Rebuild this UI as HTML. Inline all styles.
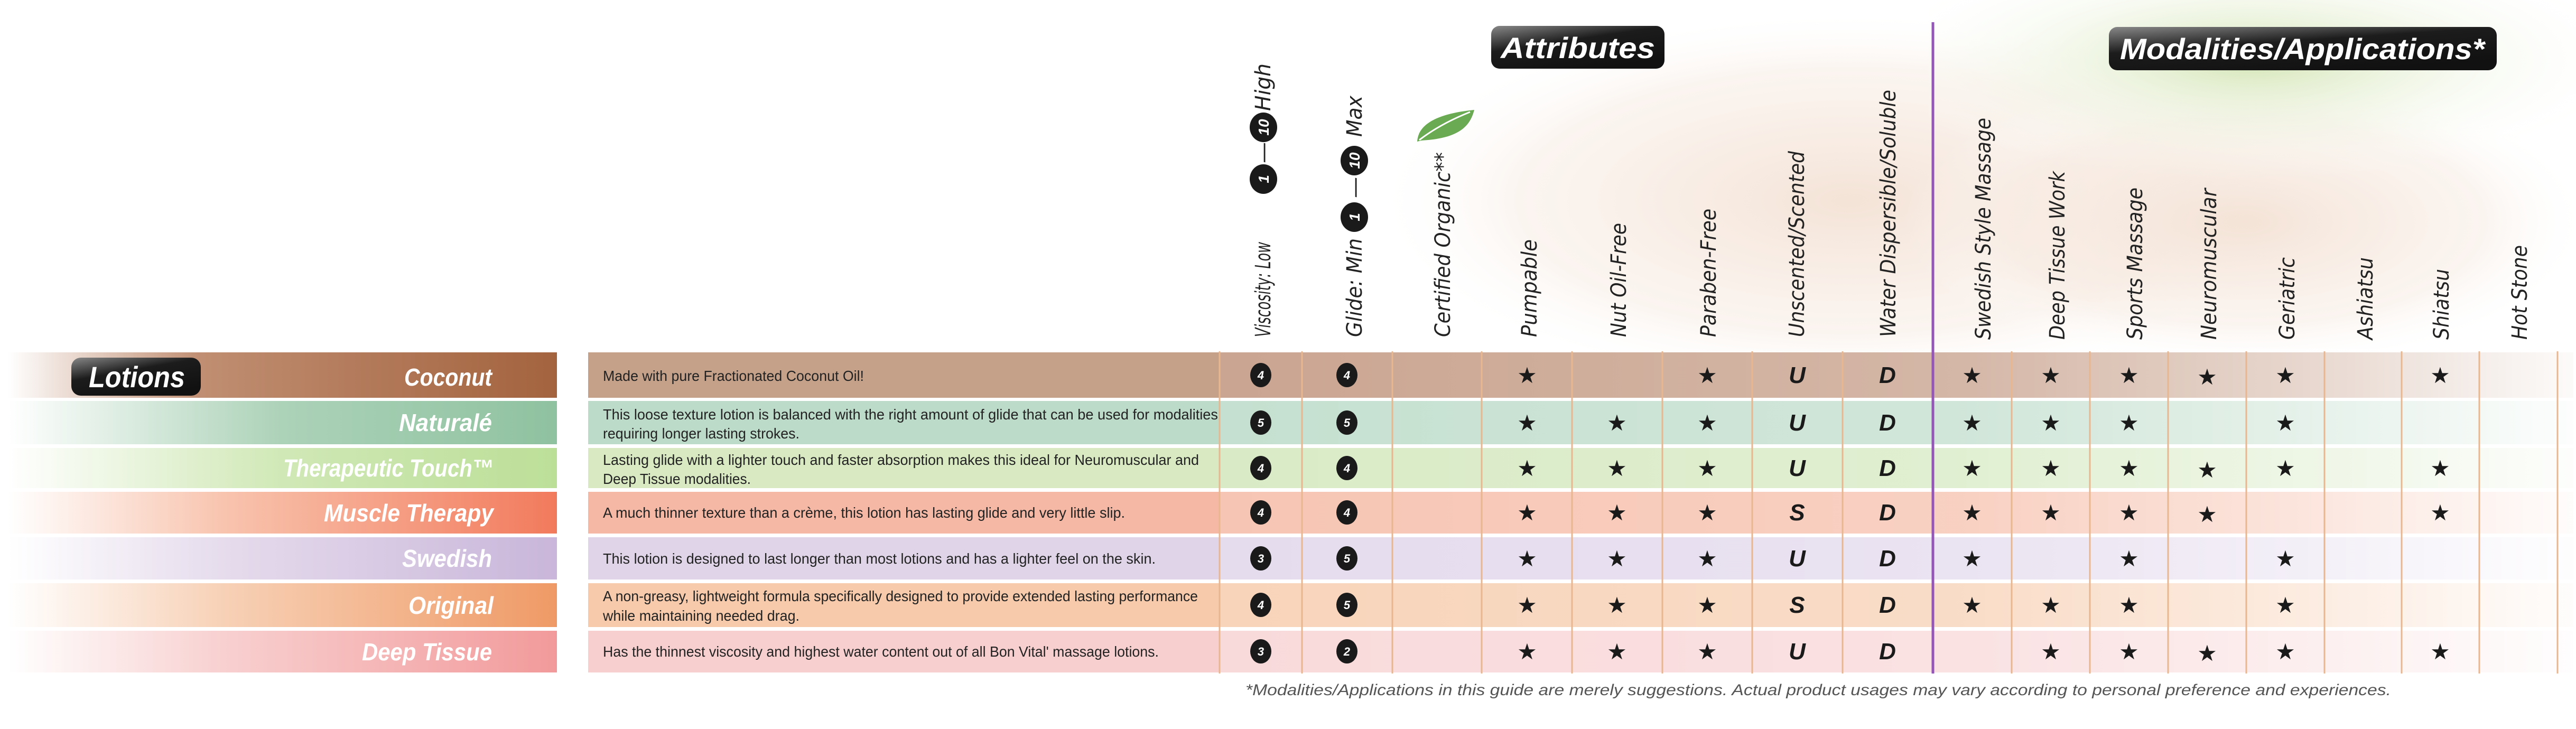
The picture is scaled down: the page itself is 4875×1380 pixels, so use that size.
<!DOCTYPE html>
<html><head><meta charset="utf-8"><style>
html,body{margin:0;padding:0;background:#fff;width:4875px;height:1380px;overflow:hidden}
svg{display:block}
.hd{font-family:"DejaVu Sans",sans-serif;font-style:italic;font-size:40px;fill:#222}
.nm{font-family:"Liberation Sans",sans-serif;font-style:italic;font-weight:bold;font-size:46px;fill:#fff}
.ds{font-family:"Liberation Sans",sans-serif;font-size:28px;fill:#222}
.st{font-family:"DejaVu Sans",sans-serif;font-size:42px;fill:#1a1a1a}
.lt{font-family:"Liberation Sans",sans-serif;font-style:italic;font-weight:bold;font-size:44px;fill:#1a1a1a}
.cn{font-family:"Liberation Sans",sans-serif;font-weight:bold;font-style:italic;font-size:22px;fill:#fff}
.cn2{font-family:"Liberation Sans",sans-serif;font-weight:bold;font-style:italic;font-size:28px;fill:#fff}
.bd{font-family:"Liberation Sans",sans-serif;font-weight:bold;font-size:56px;fill:#fff}
</style></head><body>
<svg width="4875" height="1380" viewBox="0 0 4875 1380" xmlns="http://www.w3.org/2000/svg">
<defs>
<radialGradient id="skin" cx="0.5" cy="0.5" r="0.5"><stop offset="0" stop-color="#f3e0d2" stop-opacity="0.9"/><stop offset="0.7" stop-color="#f7ebe2" stop-opacity="0.5"/><stop offset="1" stop-color="#fff" stop-opacity="0"/></radialGradient>
<radialGradient id="grn" cx="0.5" cy="0.3" r="0.6"><stop offset="0" stop-color="#cfe2ad" stop-opacity="0.9"/><stop offset="1" stop-color="#fff" stop-opacity="0"/></radialGradient>
<linearGradient id="gloss" x1="0" y1="0" x2="0.6" y2="1"><stop offset="0" stop-color="#888"/><stop offset="0.45" stop-color="#1c1c1c"/><stop offset="1" stop-color="#111"/></linearGradient>
<linearGradient id="gridFade" x1="2308" y1="0" x2="4870" y2="0" gradientUnits="userSpaceOnUse"><stop offset="0" stop-color="#fff" stop-opacity="0"/><stop offset="0.55" stop-color="#fff" stop-opacity="0.2"/><stop offset="0.8" stop-color="#fff" stop-opacity="0.55"/><stop offset="1" stop-color="#fff" stop-opacity="0.95"/></linearGradient>
<linearGradient id="b0" x1="0" x2="1"><stop offset="0" stop-color="#fff"/><stop offset="0.35" stop-color="#c08e72"/><stop offset="1" stop-color="#a3633e"/></linearGradient>
<linearGradient id="b1" x1="0" x2="1"><stop offset="0" stop-color="#fff"/><stop offset="0.5" stop-color="#acd2b8"/><stop offset="1" stop-color="#8fc2a0"/></linearGradient>
<linearGradient id="b2" x1="0" x2="1"><stop offset="0" stop-color="#fff"/><stop offset="0.5" stop-color="#d0e8b6"/><stop offset="1" stop-color="#bcdf98"/></linearGradient>
<linearGradient id="b3" x1="0" x2="1"><stop offset="0" stop-color="#fff"/><stop offset="0.4" stop-color="#f8c3ad"/><stop offset="1" stop-color="#f27a5c"/></linearGradient>
<linearGradient id="b4" x1="0" x2="1"><stop offset="0" stop-color="#fff"/><stop offset="0.4" stop-color="#e5dbec"/><stop offset="1" stop-color="#c9b6da"/></linearGradient>
<linearGradient id="b5" x1="0" x2="1"><stop offset="0" stop-color="#fff"/><stop offset="0.4" stop-color="#f7d0b5"/><stop offset="1" stop-color="#ef9a66"/></linearGradient>
<linearGradient id="b6" x1="0" x2="1"><stop offset="0" stop-color="#fff"/><stop offset="0.4" stop-color="#f8cfcf"/><stop offset="1" stop-color="#f29a9b"/></linearGradient>
</defs>

<ellipse cx="3500" cy="380" rx="900" ry="360" fill="url(#skin)"/>
<ellipse cx="4250" cy="420" rx="650" ry="280" fill="url(#skin)"/>
<rect x="3650" y="0" width="1225" height="380" fill="url(#grn)"/>

<rect x="15" y="667" width="1039" height="86" fill="url(#b0)"/>
<rect x="15" y="759" width="1039" height="82" fill="url(#b1)"/>
<rect x="15" y="848" width="1039" height="76" fill="url(#b2)"/>
<rect x="15" y="931" width="1039" height="79" fill="url(#b3)"/>
<rect x="15" y="1017" width="1039" height="80" fill="url(#b4)"/>
<rect x="15" y="1104" width="1039" height="83" fill="url(#b5)"/>
<rect x="15" y="1194" width="1039" height="79" fill="url(#b6)"/>

<rect x="1113" y="667" width="1195" height="86" fill="#c5a18a"/>
<rect x="1113" y="759" width="1195" height="82" fill="#bddbc9"/>
<rect x="1113" y="848" width="1195" height="76" fill="#d9eac3"/>
<rect x="1113" y="931" width="1195" height="79" fill="#f5b8a5"/>
<rect x="1113" y="1017" width="1195" height="80" fill="#e0d4e8"/>
<rect x="1113" y="1104" width="1195" height="83" fill="#f6caab"/>
<rect x="1113" y="1194" width="1195" height="79" fill="#f8cfcf"/>

<rect x="2308" y="667" width="2562" height="86" fill="#caa591"/>
<rect x="2308" y="759" width="2562" height="82" fill="#c5e0d0"/>
<rect x="2308" y="848" width="2562" height="76" fill="#d9ebc6"/>
<rect x="2308" y="931" width="2562" height="79" fill="#f7c5b3"/>
<rect x="2308" y="1017" width="2562" height="80" fill="#e5dcee"/>
<rect x="2308" y="1104" width="2562" height="83" fill="#f8d4ba"/>
<rect x="2308" y="1194" width="2562" height="79" fill="#f9dadb"/>
<rect x="2308" y="660" width="2567" height="620" fill="url(#gridFade)"/>

<g stroke="#e8b68f" stroke-width="3">
<line x1="2308" y1="665" x2="2308" y2="1275"/>
<line x1="2464" y1="665" x2="2464" y2="1275"/>
<line x1="2635" y1="665" x2="2635" y2="1275"/>
<line x1="2804" y1="665" x2="2804" y2="1275"/>
<line x1="2975" y1="665" x2="2975" y2="1275"/>
<line x1="3146" y1="665" x2="3146" y2="1275"/>
<line x1="3316" y1="665" x2="3316" y2="1275"/>
<line x1="3487" y1="665" x2="3487" y2="1275"/>
<line x1="3807" y1="665" x2="3807" y2="1275"/>
<line x1="3955" y1="665" x2="3955" y2="1275"/>
<line x1="4103" y1="665" x2="4103" y2="1275"/>
<line x1="4251" y1="665" x2="4251" y2="1275"/>
<line x1="4399" y1="665" x2="4399" y2="1275"/>
<line x1="4545" y1="665" x2="4545" y2="1275"/>
<line x1="4692" y1="665" x2="4692" y2="1275"/>
<line x1="4840" y1="665" x2="4840" y2="1275"/>
</g>
<line x1="3658" y1="42" x2="3658" y2="1275" stroke="#9457b8" stroke-width="5"/>

<rect x="135" y="677" width="245" height="72" rx="18" fill="url(#gloss)"/>
<text class="bd" x="168" y="733" font-style="italic" textLength="182" lengthAdjust="spacingAndGlyphs">Lotions</text>

<text class="nm" x="765" y="730" textLength="166" lengthAdjust="spacingAndGlyphs">Coconut</text>
<text class="nm" x="755" y="816" textLength="176" lengthAdjust="spacingAndGlyphs">Naturalé</text>
<text class="nm" x="536" y="902" textLength="398" lengthAdjust="spacingAndGlyphs">Therapeutic Touch™</text>
<text class="nm" x="613" y="987" textLength="321" lengthAdjust="spacingAndGlyphs">Muscle Therapy</text>
<text class="nm" x="761" y="1073" textLength="170" lengthAdjust="spacingAndGlyphs">Swedish</text>
<text class="nm" x="773" y="1162" textLength="161" lengthAdjust="spacingAndGlyphs">Original</text>
<text class="nm" x="685" y="1250" textLength="246" lengthAdjust="spacingAndGlyphs">Deep Tissue</text>

<text class="ds" x="1141" y="721" textLength="494" lengthAdjust="spacingAndGlyphs">Made with pure Fractionated Coconut Oil!</text>
<text class="ds" x="1141" y="794" textLength="1164" lengthAdjust="spacingAndGlyphs">This loose texture lotion is balanced with the right amount of glide that can be used for modalities</text>
<text class="ds" x="1141" y="830" textLength="372" lengthAdjust="spacingAndGlyphs">requiring longer lasting strokes.</text>
<text class="ds" x="1141" y="880" textLength="1128" lengthAdjust="spacingAndGlyphs">Lasting glide with a lighter touch and faster absorption makes this ideal for Neuromuscular and</text>
<text class="ds" x="1141" y="916" textLength="280" lengthAdjust="spacingAndGlyphs">Deep Tissue modalities.</text>
<text class="ds" x="1141" y="980" textLength="988" lengthAdjust="spacingAndGlyphs">A much thinner texture than a crème, this lotion has lasting glide and very little slip.</text>
<text class="ds" x="1141" y="1067" textLength="1046" lengthAdjust="spacingAndGlyphs">This lotion is designed to last longer than most lotions and has a lighter feel on the skin.</text>
<text class="ds" x="1141" y="1138" textLength="1126" lengthAdjust="spacingAndGlyphs">A non-greasy, lightweight formula specifically designed to provide extended lasting performance</text>
<text class="ds" x="1141" y="1175" textLength="372" lengthAdjust="spacingAndGlyphs">while maintaining needed drag.</text>
<text class="ds" x="1141" y="1243" textLength="1052" lengthAdjust="spacingAndGlyphs">Has the thinnest viscosity and highest water content out of all Bon Vital' massage lotions.</text>

<rect x="2822" y="49" width="328" height="81" rx="16" fill="url(#gloss)"/>
<text class="bd" x="2840" y="110" font-style="italic" textLength="292" lengthAdjust="spacingAndGlyphs">Attributes</text>
<rect x="3991" y="51" width="734" height="82" rx="16" fill="url(#gloss)"/>
<text class="bd" x="4012" y="112" font-style="italic" textLength="690" lengthAdjust="spacingAndGlyphs">Modalities/Applications*</text>

<path d="M2682 268 C2684 235 2720 215 2790 208 C2782 240 2760 262 2690 266 Z" fill="#6aaa52"/>
<path d="M2686 265 C2712 245 2742 228 2782 212" stroke="#fff" stroke-width="3" fill="none"/>

<g class="hd">
<text transform="translate(2404,638) rotate(-90)" textLength="180" lengthAdjust="spacingAndGlyphs">Viscosity: Low</text>
<text transform="translate(2404,309) rotate(-90)">—</text>
<text transform="translate(2404,210) rotate(-90)" textLength="90" lengthAdjust="spacingAndGlyphs">High</text>
<text transform="translate(2577,638) rotate(-90)" textLength="187" lengthAdjust="spacingAndGlyphs">Glide: Min</text>
<text transform="translate(2577,375) rotate(-90)">—</text>
<text transform="translate(2577,259) rotate(-90)" textLength="78" lengthAdjust="spacingAndGlyphs">Max</text>
<text transform="translate(2744,638) rotate(-90)" textLength="350" lengthAdjust="spacingAndGlyphs">Certified Organic**</text>
<text transform="translate(2908,638) rotate(-90)" textLength="185" lengthAdjust="spacingAndGlyphs">Pumpable</text>
<text transform="translate(3077,638) rotate(-90)" textLength="216" lengthAdjust="spacingAndGlyphs">Nut Oil-Free</text>
<text transform="translate(3247,638) rotate(-90)" textLength="243" lengthAdjust="spacingAndGlyphs">Paraben-Free</text>
<text transform="translate(3414,638) rotate(-90)" textLength="352" lengthAdjust="spacingAndGlyphs">Unscented/Scented</text>
<text transform="translate(3587,638) rotate(-90)" textLength="468" lengthAdjust="spacingAndGlyphs">Water Dispersible/Soluble</text>
<text transform="translate(3767,643) rotate(-90)" textLength="420" lengthAdjust="spacingAndGlyphs">Swedish Style Massage</text>
<text transform="translate(3907,643) rotate(-90)" textLength="319" lengthAdjust="spacingAndGlyphs">Deep Tissue Work</text>
<text transform="translate(4054,643) rotate(-90)" textLength="288" lengthAdjust="spacingAndGlyphs">Sports Massage</text>
<text transform="translate(4194,643) rotate(-90)" textLength="286" lengthAdjust="spacingAndGlyphs">Neuromuscular</text>
<text transform="translate(4342,643) rotate(-90)" textLength="156" lengthAdjust="spacingAndGlyphs">Geriatric</text>
<text transform="translate(4490,643) rotate(-90)" textLength="156" lengthAdjust="spacingAndGlyphs">Ashiatsu</text>
<text transform="translate(4634,643) rotate(-90)" textLength="134" lengthAdjust="spacingAndGlyphs">Shiatsu</text>
<text transform="translate(4782,643) rotate(-90)" textLength="179" lengthAdjust="spacingAndGlyphs">Hot Stone</text>
</g>
<g>
<ellipse cx="2391" cy="339" rx="26" ry="28" fill="#1a1a1a"/><text class="cn2" transform="translate(2401,339) rotate(-90)" text-anchor="middle">1</text>
<ellipse cx="2391" cy="241" rx="26" ry="28" fill="#1a1a1a"/><text class="cn2" transform="translate(2401,241) rotate(-90)" text-anchor="middle">10</text>
<ellipse cx="2563" cy="411" rx="26" ry="28" fill="#1a1a1a"/><text class="cn2" transform="translate(2573,411) rotate(-90)" text-anchor="middle">1</text>
<ellipse cx="2563" cy="304" rx="26" ry="28" fill="#1a1a1a"/><text class="cn2" transform="translate(2573,304) rotate(-90)" text-anchor="middle">10</text>
</g>

<g fill="#1a1a1a">
<ellipse cx="2386" cy="710" rx="20" ry="23"/><ellipse cx="2549" cy="710" rx="20" ry="23"/>
<ellipse cx="2386" cy="800" rx="20" ry="23"/><ellipse cx="2549" cy="800" rx="20" ry="23"/>
<ellipse cx="2386" cy="886" rx="20" ry="23"/><ellipse cx="2549" cy="886" rx="20" ry="23"/>
<ellipse cx="2386" cy="970" rx="20" ry="23"/><ellipse cx="2549" cy="970" rx="20" ry="23"/>
<ellipse cx="2386" cy="1057" rx="20" ry="23"/><ellipse cx="2549" cy="1057" rx="20" ry="23"/>
<ellipse cx="2386" cy="1145" rx="20" ry="23"/><ellipse cx="2549" cy="1145" rx="20" ry="23"/>
<ellipse cx="2386" cy="1233" rx="20" ry="23"/><ellipse cx="2549" cy="1233" rx="20" ry="23"/>
</g>
<g class="cn" text-anchor="middle">
<text x="2386" y="718">4</text><text x="2549" y="718">4</text>
<text x="2386" y="808">5</text><text x="2549" y="808">5</text>
<text x="2386" y="894">4</text><text x="2549" y="894">4</text>
<text x="2386" y="978">4</text><text x="2549" y="978">4</text>
<text x="2386" y="1065">3</text><text x="2549" y="1065">5</text>
<text x="2386" y="1153">4</text><text x="2549" y="1153">5</text>
<text x="2386" y="1241">3</text><text x="2549" y="1241">2</text>
</g>
<g class="lt" text-anchor="middle">
<text x="3401" y="725">U</text><text x="3572" y="725">D</text>
<text x="3401" y="815">U</text><text x="3572" y="815">D</text>
<text x="3401" y="901">U</text><text x="3572" y="901">D</text>
<text x="3401" y="985">S</text><text x="3572" y="985">D</text>
<text x="3401" y="1072">U</text><text x="3572" y="1072">D</text>
<text x="3401" y="1160">S</text><text x="3572" y="1160">D</text>
<text x="3401" y="1248">U</text><text x="3572" y="1248">D</text>
</g>
<g class="st" text-anchor="middle">
<text x="2890" y="725">★</text><text x="3231" y="725">★</text><text x="3732" y="725">★</text><text x="3881" y="725">★</text><text x="4029" y="725">★</text><text x="4177" y="728">★</text><text x="4325" y="725">★</text><text x="4618" y="725">★</text>
<text x="2890" y="815">★</text><text x="3060" y="815">★</text><text x="3231" y="815">★</text><text x="3732" y="815">★</text><text x="3881" y="815">★</text><text x="4029" y="815">★</text><text x="4325" y="815">★</text>
<text x="2890" y="901">★</text><text x="3060" y="901">★</text><text x="3231" y="901">★</text><text x="3732" y="901">★</text><text x="3881" y="901">★</text><text x="4029" y="901">★</text><text x="4177" y="904">★</text><text x="4325" y="901">★</text><text x="4618" y="901">★</text>
<text x="2890" y="985">★</text><text x="3060" y="985">★</text><text x="3231" y="985">★</text><text x="3732" y="985">★</text><text x="3881" y="985">★</text><text x="4029" y="985">★</text><text x="4177" y="988">★</text><text x="4618" y="985">★</text>
<text x="2890" y="1072">★</text><text x="3060" y="1072">★</text><text x="3231" y="1072">★</text><text x="3732" y="1072">★</text><text x="4029" y="1072">★</text><text x="4325" y="1072">★</text>
<text x="2890" y="1160">★</text><text x="3060" y="1160">★</text><text x="3231" y="1160">★</text><text x="3732" y="1160">★</text><text x="3881" y="1160">★</text><text x="4029" y="1160">★</text><text x="4325" y="1160">★</text>
<text x="2890" y="1248">★</text><text x="3060" y="1248">★</text><text x="3231" y="1248">★</text><text x="3881" y="1248">★</text><text x="4029" y="1248">★</text><text x="4177" y="1251">★</text><text x="4325" y="1248">★</text><text x="4618" y="1248">★</text>
</g>

<text x="2357" y="1316" font-family="Liberation Sans, sans-serif" font-style="italic" font-size="30" fill="#555" textLength="2168" lengthAdjust="spacingAndGlyphs">*Modalities/Applications in this guide are merely suggestions.  Actual product usages may vary according to personal preference and experiences.</text>
</svg>
</body></html>
